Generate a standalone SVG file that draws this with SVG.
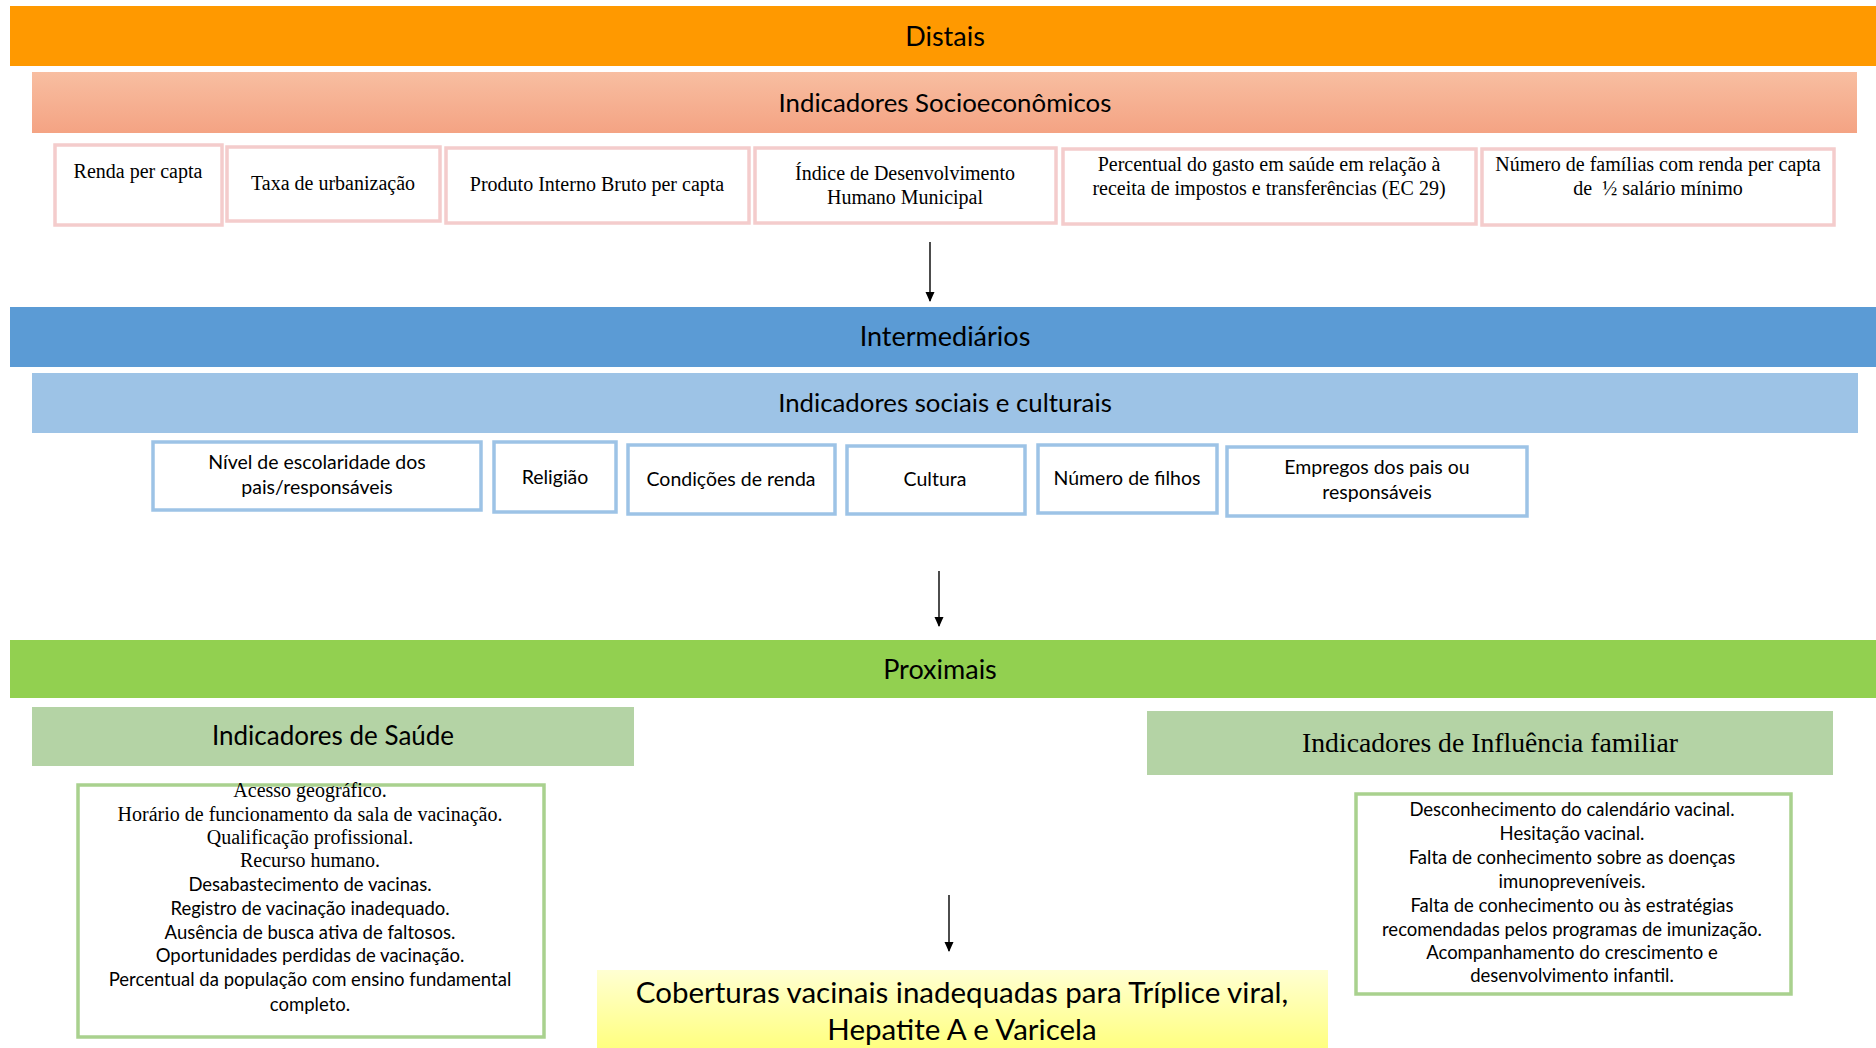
<svg xmlns="http://www.w3.org/2000/svg" width="1876" height="1048" viewBox="0 0 1876 1048">
<style>
.hdr{font-family:Lato,"Liberation Sans",sans-serif;font-size:27px;fill:#000;text-anchor:middle}
.sub{font-size:25.8px}
.ser{font-family:"Liberation Serif",serif;font-size:20px;fill:#000;text-anchor:middle}
.san{font-family:Lato,"Liberation Sans",sans-serif;font-size:19.5px;fill:#000;text-anchor:middle}
.lst{font-family:Lato,"Liberation Sans",sans-serif;font-size:18.5px;fill:#000;text-anchor:middle}
.pink{fill:#fff;stroke:#F4CCCC;stroke-width:3.5}
.blue{fill:#fff;stroke:#9DC3E6;stroke-width:3.5}
.grn{fill:#fff;stroke:#A9D18E;stroke-width:3.5}
.conn{stroke:#000;stroke-width:1.4;fill:none}
</style>
<defs>
<linearGradient id="salmon" x1="0" y1="0" x2="0" y2="1"><stop offset="0" stop-color="#F8BEA1"/><stop offset="1" stop-color="#F4A383"/></linearGradient>
<linearGradient id="yellow" x1="0" y1="0" x2="0" y2="1"><stop offset="0" stop-color="#FFFFD2"/><stop offset="1" stop-color="#FFFF80"/></linearGradient>
<marker id="arr" markerWidth="10" markerHeight="10" refX="9" refY="5" orient="auto" markerUnits="userSpaceOnUse"><path d="M0,0.5 L10,5 L0,9.5 Z" fill="#000"/></marker>
</defs>
<rect width="1876" height="1048" fill="#fff"/>

<g id="distais"><rect x="10" y="6" width="1866" height="60" fill="#FF9900"/><text class="hdr" x="945" y="46">Distais</text></g>
<g id="socioeconomicos"><rect x="32" y="72" width="1825" height="61" fill="url(#salmon)"/><text class="hdr sub" x="945" y="112">Indicadores Socioeconômicos</text></g>

<g id="renda"><rect class="pink" x="55" y="145" width="167" height="80"/><text class="ser" x="138" y="178">Renda per capta</text></g>
<g id="urbanizacao"><rect class="pink" x="227" y="147" width="213" height="74"/><text class="ser" x="333" y="190">Taxa de urbanização</text></g>
<g id="pib"><rect class="pink" x="446" y="148" width="303" height="75"/><text class="ser" x="597" y="191">Produto Interno Bruto per capta</text></g>
<g id="idhm"><rect class="pink" x="755" y="148" width="301" height="75"/><text class="ser" x="905" y="180">Índice de Desenvolvimento</text><text class="ser" x="905" y="204">Humano Municipal</text></g>
<g id="ec29"><rect class="pink" x="1063" y="149" width="413" height="75"/><text class="ser" x="1269" y="171">Percentual do gasto em saúde em relação à</text><text class="ser" x="1269" y="195">receita de impostos e transferências (EC 29)</text></g>
<g id="familias"><rect class="pink" x="1482" y="149" width="352" height="76"/><text class="ser" x="1658" y="171">Número de famílias com renda per capta</text><text class="ser" x="1658" y="195">de&#160; ½ salário mínimo</text></g>

<g id="intermediarios"><rect x="10" y="307" width="1866" height="60" fill="#5B9BD5"/><text class="hdr" x="945" y="346">Intermediários</text></g>
<g id="sociais"><rect x="32" y="373" width="1826" height="60" fill="#9DC3E6"/><text class="hdr sub" x="945" y="412">Indicadores sociais e culturais</text></g>

<g id="escolaridade"><rect class="blue" x="153" y="442" width="328" height="68"/><text class="san" x="317" y="469">Nível de escolaridade dos</text><text class="san" x="317" y="494">pais/responsáveis</text></g>
<g id="religiao"><rect class="blue" x="494" y="442" width="122" height="70"/><text class="san" x="555" y="484">Religião</text></g>
<g id="condicoes"><rect class="blue" x="628" y="445" width="207" height="69"/><text class="san" x="731" y="486">Condições de renda</text></g>
<g id="cultura"><rect class="blue" x="847" y="446" width="178" height="68"/><text class="san" x="935" y="486">Cultura</text></g>
<g id="filhos"><rect class="blue" x="1038" y="445" width="179" height="68"/><text class="san" x="1127" y="485">Número de filhos</text></g>
<g id="empregos"><rect class="blue" x="1227" y="447" width="300" height="69"/><text class="san" x="1377" y="474">Empregos dos pais ou</text><text class="san" x="1377" y="499">responsáveis</text></g>

<g id="proximais"><rect x="10" y="640" width="1866" height="58" fill="#92D050"/><text class="hdr" x="940" y="679">Proximais</text></g>
<g id="saude-hdr"><rect x="32" y="707" width="602" height="59" fill="#B4D3A5"/><text class="hdr" x="333" y="745" style="font-size:26px">Indicadores de Saúde</text></g>
<g id="familiar-hdr"><rect x="1147" y="711" width="686" height="64" fill="#B4D3A5"/><text class="ser" x="1490" y="752" style="font-size:27.7px">Indicadores de Influência familiar</text></g>

<g id="saude-lista"><rect class="grn" x="78" y="785" width="466" height="252"/>
<text class="ser" x="310" y="797">Acesso geográfico.</text>
<text class="ser" x="310" y="821">Horário de funcionamento da sala de vacinação.</text>
<text class="ser" x="310" y="844">Qualificação profissional.</text>
<text class="ser" x="310" y="867">Recurso humano.</text>
<text class="lst" x="310" y="891">Desabastecimento de vacinas.</text>
<text class="lst" x="310" y="915">Registro de vacinação inadequado.</text>
<text class="lst" x="310" y="939">Ausência de busca ativa de faltosos.</text>
<text class="lst" x="310" y="962">Oportunidades perdidas de vacinação.</text>
<text class="lst" x="310" y="986">Percentual da população com ensino fundamental</text>
<text class="lst" x="310" y="1011">completo.</text>
</g>

<g id="familiar-lista"><rect class="grn" x="1356" y="794" width="435" height="200"/>
<text class="lst" x="1572" y="816">Desconhecimento do calendário vacinal.</text>
<text class="lst" x="1572" y="840">Hesitação vacinal.</text>
<text class="lst" x="1572" y="864">Falta de conhecimento sobre as doenças</text>
<text class="lst" x="1572" y="888">imunopreveníveis.</text>
<text class="lst" x="1572" y="912">Falta de conhecimento ou às estratégias</text>
<text class="lst" x="1572" y="936">recomendadas pelos programas de imunização.</text>
<text class="lst" x="1572" y="959">Acompanhamento do crescimento e</text>
<text class="lst" x="1572" y="982">desenvolvimento infantil.</text>
</g>

<g id="coberturas"><rect x="597" y="970" width="731" height="78" fill="url(#yellow)"/>
<text class="hdr" x="962" y="1003" style="font-size:29.5px">Coberturas vacinais inadequadas para Tríplice viral,</text>
<text class="hdr" x="962" y="1040" style="font-size:29.5px">Hepatite A e Varicela</text>
</g>

<g id="connectors">
<line class="conn" x1="930" y1="242" x2="930" y2="301" marker-end="url(#arr)"/>
<line class="conn" x1="939" y1="571" x2="939" y2="626" marker-end="url(#arr)"/>
<line class="conn" x1="949" y1="895" x2="949" y2="951" marker-end="url(#arr)"/>
</g>
</svg>
